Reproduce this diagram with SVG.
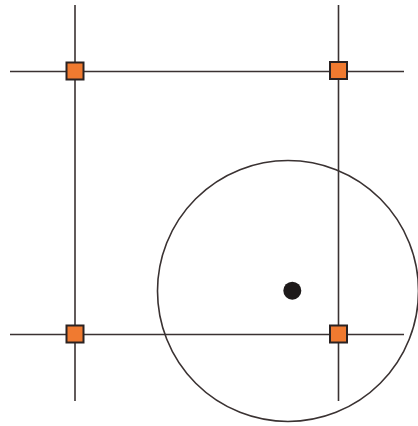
<svg xmlns="http://www.w3.org/2000/svg" width="418" height="426" viewBox="0 0 418 426">
<style>
.ln{stroke:#3a3232;stroke-width:1.6;fill:none}
.sq{fill:#f07a30;stroke:#2a2222;stroke-width:2}
</style>
<rect width="418" height="426" fill="#fff"/>
<g id="connectors">
<line class="ln" x1="75" y1="5" x2="75" y2="401"/>
<line class="ln" x1="338.5" y1="5" x2="338.5" y2="401"/>
<line class="ln" x1="10" y1="71.5" x2="404" y2="71.5"/>
<line class="ln" x1="10" y1="334.5" x2="404" y2="334.5"/>
</g>
<g id="circle"><circle class="ln" cx="288" cy="291" r="130.5"/></g>
<g id="dot"><circle cx="292.3" cy="290.7" r="9" fill="#1e1a1a"/></g>
<g id="n1"><rect class="sq" x="66.5" y="62.5" width="17" height="17"/></g>
<g id="n2"><rect class="sq" x="330" y="62" width="17" height="17"/></g>
<g id="n3"><rect class="sq" x="66.5" y="325.5" width="17" height="17"/></g>
<g id="n4"><rect class="sq" x="330" y="325.5" width="17" height="17"/></g>
</svg>
